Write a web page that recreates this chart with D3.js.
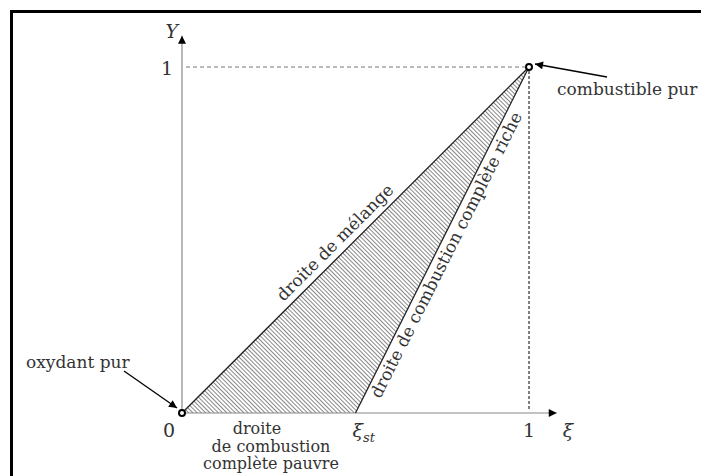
<!DOCTYPE html>
<html>
<head>
<meta charset="utf-8">
<script src="https://cdn.jsdelivr.net/npm/d3@7"></script>
<style>
  html, body { margin: 0; padding: 0; background: #fff; }
</style>
</head>
<body>
<div id="chart"></div>
<script>
// triangle vertices: pure oxidiser, stoichiometric point, pure fuel
const vertexNames = ["oxydant", "stoechio", "combustible"];
const vertexXi = [0, 0.5, 1];
const vertexY = [0, 0, 1];

const xTickValues = [0, 0.5, 1];
const xTickLabels = ["0", "ξ", "1"];
const yTickValues = [1];
const yTickLabels = ["1"];

const lineLabels = ["droite de mélange", "droite de combustion complète riche"];
const poorLineLabel = ["droite", "de combustion", "complète pauvre"];
const pointLabels = ["oxydant pur", "combustible pur"];

var width = 701, height = 476;
var serif = "'DejaVu Serif', serif";
var fs = 17;

var svg = d3.select("#chart").append("svg")
    .attr("width", width)
    .attr("height", height);

var x = d3.scaleLinear().domain([0, 1]).range([182, 529]);
var y = d3.scaleLinear().domain([0, 1]).range([413, 67]);

var defs = svg.append("defs");

defs.append("pattern")
    .attr("id", "hatch")
    .attr("patternUnits", "userSpaceOnUse")
    .attr("width", 3)
    .attr("height", 10)
    .attr("patternTransform", "rotate(-45)")
  .append("line")
    .attr("x1", 0.5).attr("y1", 0)
    .attr("x2", 0.5).attr("y2", 10)
    .attr("stroke", "#555")
    .attr("stroke-width", 0.7);

defs.append("marker")
    .attr("id", "arrow")
    .attr("viewBox", "0 0 10 10")
    .attr("refX", 10).attr("refY", 5)
    .attr("markerWidth", 11).attr("markerHeight", 8)
    .attr("markerUnits", "userSpaceOnUse")
    .attr("orient", "auto")
  .append("path")
    .attr("d", "M0,0 L10,5 L0,10 Z")
    .attr("fill", "#000");

// frame
svg.append("rect")
    .attr("x", 11.5).attr("y", 11.5)
    .attr("width", 700).attr("height", 475)
    .attr("fill", "none")
    .attr("stroke", "#000")
    .attr("stroke-width", 3);

var pts = vertexXi.map((v, i) => [x(v), y(vertexY[i])]);

// hatched triangle
svg.append("path")
    .attr("d", d3.line()(pts) + "Z")
    .attr("fill", "url(#hatch)")
    .attr("stroke", "none");

// guides to the pure fuel point
svg.append("line")
    .attr("x1", x(0) + 4).attr("y1", y(1))
    .attr("x2", x(1) - 4).attr("y2", y(1))
    .attr("stroke", "#777").attr("stroke-width", 1)
    .attr("stroke-dasharray", "4,3");

svg.append("line")
    .attr("x1", x(1)).attr("y1", y(1) + 4)
    .attr("x2", x(1)).attr("y2", y(0) - 4)
    .attr("stroke", "#000").attr("stroke-width", 1)
    .attr("stroke-dasharray", "3,2");

// axes
svg.append("line")
    .attr("x1", x(0)).attr("y1", y(0))
    .attr("x2", x(1.08)).attr("y2", y(0))
    .attr("stroke", "#888").attr("stroke-width", 1.2)
    .attr("marker-end", "url(#arrow)");

svg.append("line")
    .attr("x1", x(0)).attr("y1", y(0))
    .attr("x2", x(0)).attr("y2", y(1.09))
    .attr("stroke", "#888").attr("stroke-width", 1.2)
    .attr("marker-end", "url(#arrow)");

// triangle edges
svg.append("line")
    .attr("x1", pts[0][0]).attr("y1", pts[0][1])
    .attr("x2", pts[2][0]).attr("y2", pts[2][1])
    .attr("stroke", "#222").attr("stroke-width", 1.3);

svg.append("line")
    .attr("x1", pts[1][0]).attr("y1", pts[1][1])
    .attr("x2", pts[2][0]).attr("y2", pts[2][1])
    .attr("stroke", "#222").attr("stroke-width", 1.3);

// pure points
svg.selectAll(".pure")
  .data([pts[0], pts[2]])
  .enter().append("circle")
    .attr("class", "pure")
    .attr("cx", d => d[0]).attr("cy", d => d[1])
    .attr("r", 3)
    .attr("fill", "#fff")
    .attr("stroke", "#000")
    .attr("stroke-width", 2);

function txt(sel, size) {
  return sel.attr("fill", "#333")
    .style("font-family", serif)
    .style("font-size", (size || fs) + "px");
}

// tick labels
var xt = svg.selectAll(".xtick")
  .data(xTickValues)
  .enter().append("text")
    .attr("class", "xtick")
    .attr("x", (d, i) => i === 0 ? x(d) - 7 : (i === 1 ? x(d) - 3 : x(d)))
    .attr("y", y(0) + 24)
    .attr("text-anchor", (d, i) => i === 0 ? "end" : (i === 1 ? "start" : "middle"))
    .call(txt, 19)
    .style("font-style", (d, i) => i === 1 ? "italic" : "normal")
    .text((d, i) => xTickLabels[i]);

xt.filter((d, i) => i === 1).append("tspan")
    .attr("dy", 5)
    .style("font-size", "13px")
    .text("st");

svg.selectAll(".ytick")
  .data(yTickValues)
  .enter().append("text")
    .attr("class", "ytick")
    .attr("x", x(0) - 9)
    .attr("y", d => y(d) + 8)
    .attr("text-anchor", "end")
    .call(txt, 19)
    .text((d, i) => yTickLabels[i]);

// axis names
svg.append("text")
    .attr("x", x(1.08) + 6).attr("y", y(0) + 24)
    .call(txt, 19).style("font-style", "italic")
    .text("ξ");

svg.append("text")
    .attr("x", x(0) - 4).attr("y", y(1.09) + 2)
    .attr("text-anchor", "end")
    .call(txt, 19).style("font-style", "italic")
    .text("Y");

// labels along the lines
function lineLabel(p0, p1, t, offset, label) {
  var px = p0[0] + (p1[0] - p0[0]) * t,
      py = p0[1] + (p1[1] - p0[1]) * t,
      ang = Math.atan2(p1[1] - p0[1], p1[0] - p0[0]) * 180 / Math.PI;
  svg.append("text")
      .attr("transform", "translate(" + px + "," + py + ") rotate(" + ang + ")")
      .attr("y", offset)
      .attr("text-anchor", "middle")
      .call(txt)
      .text(label);
}

lineLabel(pts[0], pts[2], 0.467, -7, lineLabels[0]);
lineLabel(pts[1], pts[2], 0.47, 16, lineLabels[1]);

// lean line label, under the x axis
svg.selectAll(".poor")
  .data(poorLineLabel)
  .enter().append("text")
    .attr("class", "poor")
    .attr("x", (d, i) => i === 0 ? 257 : 271)
    .attr("y", (d, i) => 434 + i * 17.5)
    .attr("text-anchor", "middle")
    .call(txt, 16)
    .text(d => d);

// annotations of the pure points
svg.append("text")
    .attr("x", 26).attr("y", 368)
    .call(txt)
    .text(pointLabels[0]);

svg.append("line")
    .attr("x1", 124).attr("y1", 371)
    .attr("x2", pts[0][0] - 5).attr("y2", pts[0][1] - 5)
    .attr("stroke", "#000").attr("stroke-width", 1.3)
    .attr("marker-end", "url(#arrow)");

svg.append("text")
    .attr("x", 557).attr("y", 95)
    .call(txt)
    .text(pointLabels[1]);

svg.append("line")
    .attr("x1", 607).attr("y1", 77)
    .attr("x2", pts[2][0] + 6).attr("y2", pts[2][1] - 3)
    .attr("stroke", "#000").attr("stroke-width", 1.3)
    .attr("marker-end", "url(#arrow)");
</script>
</body>
</html>
